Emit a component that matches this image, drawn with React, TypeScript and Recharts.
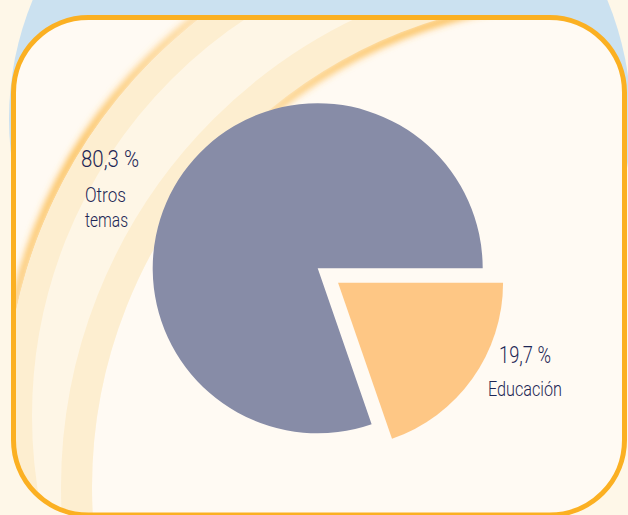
import React from 'react';
import { PieChart, Pie, Cell } from 'recharts';

const CATEGORIES = ['Otros temas', 'Educación'];
const SHARES = [80.3, 19.7];
const SLICE_COLORS = ['#878ca7', '#fec785'];
const EXPLODED = [false, true];

const W = 628;
const H = 515;
const CX = 312.7;
const CY = 263.3;
const RADIUS = 165;
const EXPLODE_PX = 25;
const START_ANGLE = 0;

const TEXT_COLOR = '#1d2655';

// label layout: left x, baseline y, forced width (condensed look)
const LABEL_LAYOUT = [
  { pct: { x: 81, y: 167, w: 58 }, lines: [{ x: 85, y: 202, w: 41 }, { x: 85, y: 227, w: 43 }] },
  { pct: { x: 499, y: 363, w: 52 }, lines: [{ x: 488, y: 396, w: 74 }] },
];

const pieData = CATEGORIES.map((name, i) => ({ name, value: SHARES[i] }));

const total = SHARES.reduce((a, b) => a + b, 0);
let acc = 0;
const midAngles = SHARES.map(v => {
  const m = START_ANGLE + ((acc + v / 2) / total) * 360;
  acc += v;
  return m;
});

const fmtPct = (v: number) => `${v.toFixed(1).replace('.', ',')} %`;

function Backdrop() {
  return (
    <svg width={W} height={H} style={{ position: 'absolute', left: 0, top: 0 }}>
      <defs>
        <clipPath id="frameClip">
          <rect x={13.5} y={17.5} width={611} height={497.5} rx={75} ry={75} />
        </clipPath>
        <filter id="soft" x="-10%" y="-10%" width="120%" height="120%">
          <feGaussianBlur stdDeviation={3.5} />
        </filter>
        <linearGradient id="glowA" gradientUnits="userSpaceOnUse" x1={0} y1={0} x2={0} y2={340}>
          <stop offset="0" stopColor="#fbb43a" stopOpacity={0.45} />
          <stop offset="0.45" stopColor="#fbb43a" stopOpacity={0.95} />
          <stop offset="1" stopColor="#fbb43a" stopOpacity={0.7} />
        </linearGradient>
        <linearGradient id="glowB" gradientUnits="userSpaceOnUse" x1={0} y1={0} x2={0} y2={230}>
          <stop offset="0" stopColor="#fbb43a" stopOpacity={1} />
          <stop offset="0.5" stopColor="#fbb43a" stopOpacity={0.6} />
          <stop offset="1" stopColor="#fbb43a" stopOpacity={0} />
        </linearGradient>
      </defs>
      <rect x={0} y={0} width={W} height={H} fill="#fef7e8" />
      <circle cx={320} cy={119} r={311} fill="#cbe1f0" />
      <rect x={13.5} y={17.5} width={611} height={497.5} rx={75} ry={75} fill="#fffaf3" />
      <g clipPath="url(#frameClip)">
        <circle cx={508} cy={416} r={506} fill="none" stroke="url(#glowA)" strokeWidth={7} filter="url(#soft)" />
        <circle cx={508} cy={416} r={503} fill="#fef6e6" />
        <circle cx={508} cy={416} r={489.5} fill="none" stroke="#fdeed0" strokeWidth={27} />
        <circle cx={581} cy={487} r={489} fill="#fffaf3" />
        <circle cx={581} cy={487} r={486} fill="none" stroke="url(#glowB)" strokeWidth={7} filter="url(#soft)" />
        <circle cx={581} cy={487} r={504.5} fill="none" stroke="#fdeed0" strokeWidth={31} />
      </g>
      <rect x={13.5} y={17.5} width={611} height={497.5} rx={75} ry={75} fill="none" stroke="#fbb022" strokeWidth={5} />
    </svg>
  );
}

function Labels() {
  return (
    <svg width={W} height={H} style={{ position: 'absolute', left: 0, top: 0, pointerEvents: 'none' }}>
      {CATEGORIES.map((name, i) => {
        const lay = LABEL_LAYOUT[i];
        const words = name.split(' ');
        return (
          <g key={name} fill={TEXT_COLOR} fontFamily="Roboto, 'DejaVu Sans', sans-serif" fontWeight={300}>
            <text x={lay.pct.x} y={lay.pct.y} fontSize={24} textLength={lay.pct.w} lengthAdjust="spacingAndGlyphs">
              {fmtPct(SHARES[i])}
            </text>
            {words.map((wd, j) => (
              <text
                key={wd}
                x={lay.lines[j].x}
                y={lay.lines[j].y}
                fontSize={21}
                textLength={lay.lines[j].w}
                lengthAdjust="spacingAndGlyphs"
              >
                {wd}
              </text>
            ))}
          </g>
        );
      })}
    </svg>
  );
}

export default function App() {
  const rad = Math.PI / 180;
  return (
    <div style={{ position: 'relative', width: W, height: H, overflow: 'hidden' }}>
      <style>{'body{margin:0}'}</style>
      <Backdrop />
      <div style={{ position: 'absolute', left: 0, top: 0 }}>
        <PieChart width={W} height={H}>
          <Pie
            data={pieData}
            dataKey="value"
            nameKey="name"
            cx={CX}
            cy={CY}
            outerRadius={RADIUS}
            startAngle={START_ANGLE}
            endAngle={START_ANGLE + 360}
            stroke="none"
            isAnimationActive={false}
          >
            {pieData.map((d, i) => (
              <Cell key={d.name} fill={EXPLODED[i] ? 'transparent' : SLICE_COLORS[i]} />
            ))}
          </Pie>
          {pieData.map((d, i) =>
            EXPLODED[i] ? (
              <Pie
                key={`ex-${d.name}`}
                data={pieData}
                dataKey="value"
                nameKey="name"
                cx={CX + EXPLODE_PX * Math.cos(midAngles[i] * rad)}
                cy={CY - EXPLODE_PX * Math.sin(midAngles[i] * rad)}
                outerRadius={RADIUS}
                startAngle={START_ANGLE}
                endAngle={START_ANGLE + 360}
                stroke="none"
                isAnimationActive={false}
              >
                {pieData.map((e, k) => (
                  <Cell key={e.name} fill={k === i ? SLICE_COLORS[k] : 'transparent'} />
                ))}
              </Pie>
            ) : null
          )}
        </PieChart>
      </div>
      <Labels />
    </div>
  );
}
